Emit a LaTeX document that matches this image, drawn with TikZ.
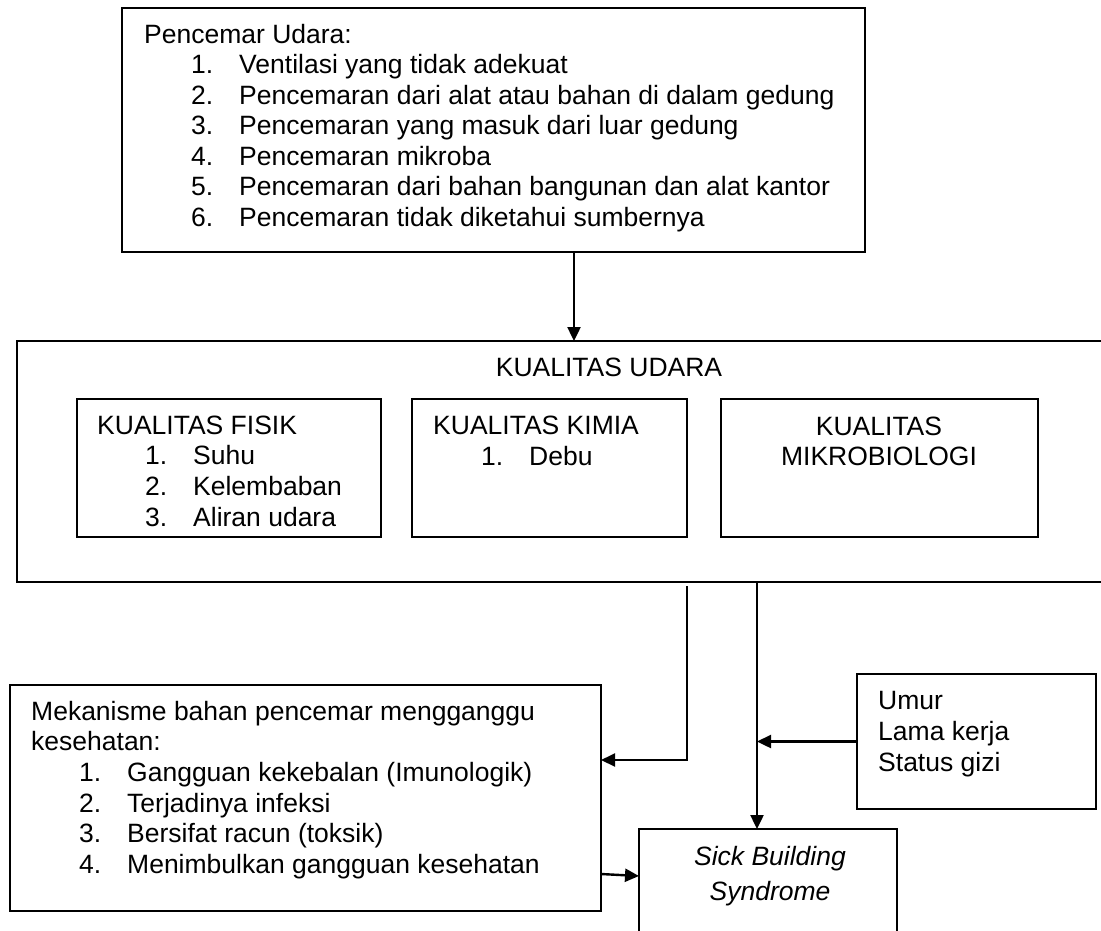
\documentclass[tikz,border=0pt]{standalone}
\usepackage{fontspec}
\setmainfont{Liberation Sans}
\usetikzlibrary{arrows.meta}
\newcommand\numitem[2]{\makebox[48pt][l]{#1}#2}
\begin{document}
\begin{tikzpicture}[x=1pt,y=-1pt,
  box/.style={draw,line width=2pt,rectangle,inner sep=0pt,outer sep=0pt,anchor=north west},
  txt/.style={anchor=base west,inner sep=0pt,font=\fontsize{26.5}{30.5}\selectfont},
  ctxt/.style={txt,anchor=base},
  arr/.style={line width=2.4pt,-{Triangle[length=14pt,width=13pt]}},
  thinarr/.style={line width=2pt,-{Triangle[length=14pt,width=13pt]}},
]
\useasboundingbox (0,0) rectangle (1101,930);
% boxes
\node[box,minimum width=743,minimum height=244] (top) at (122,8) {};
\node[box,minimum width=1110,minimum height=241] (big) at (17,341) {};
\node[box,minimum width=304,minimum height=138] (fisik) at (77,399) {};
\node[box,minimum width=275,minimum height=138] (kimia) at (412,399) {};
\node[box,minimum width=317,minimum height=138] (mikro) at (721,399) {};
\node[box,minimum width=591,minimum height=226] (mek) at (10,685) {};
\node[box,minimum width=239,minimum height=135] (umur) at (857,674) {};
\node[box,minimum width=258,minimum height=150] (sbs) at (639,829) {};
% top box text
\node[txt] (t0) at (144,43) {Pencemar Udara:};
\node[txt] (t1) at (191,73.5) {\numitem{1.}{Ventilasi yang tidak adekuat}};
\node[txt] (t2) at (191,104) {\numitem{2.}{Pencemaran dari alat atau bahan di dalam gedung}};
\node[txt] (t3) at (191,134.5) {\numitem{3.}{Pencemaran yang masuk dari luar gedung}};
\node[txt] (t4) at (191,165) {\numitem{4.}{Pencemaran mikroba}};
\node[txt] (t5) at (191,195.5) {\numitem{5.}{Pencemaran dari bahan bangunan dan alat kantor}};
\node[txt] (t6) at (191,226) {\numitem{6.}{Pencemaran tidak diketahui sumbernya}};
% kualitas udara
\node[ctxt] (ku) at (609,376) {KUALITAS UDARA};
\node[txt] (f0) at (97,434) {KUALITAS FISIK};
\node[txt] (f1) at (145,464.5) {\numitem{1.}{Suhu}};
\node[txt] (f2) at (145,495.5) {\numitem{2.}{Kelembaban}};
\node[txt] (f3) at (145,526.5) {\numitem{3.}{Aliran udara}};
\node[txt] (k0) at (433,434) {KUALITAS KIMIA};
\node[txt] (k1) at (481,465) {\numitem{1.}{Debu}};
\node[ctxt] (m0) at (879,435) {KUALITAS};
\node[ctxt] (m1) at (879,465) {MIKROBIOLOGI};
% mekanisme
\node[txt] (e0) at (31,720) {Mekanisme bahan pencemar mengganggu};
\node[txt] (e1) at (31,750) {kesehatan:};
\node[txt] (e2) at (79,781.5) {\numitem{1.}{Gangguan kekebalan (Imunologik)}};
\node[txt] (e3) at (79,812) {\numitem{2.}{Terjadinya infeksi}};
\node[txt] (e4) at (79,842.5) {\numitem{3.}{Bersifat racun (toksik)}};
\node[txt] (e5) at (79,873) {\numitem{4.}{Menimbulkan gangguan kesehatan}};
% umur
\node[txt] (u0) at (878,709) {Umur};
\node[txt] (u1) at (878,740) {Lama kerja};
\node[txt] (u2) at (878,771) {Status gizi};
% sbs
\node[ctxt] (s0) at (770,865) {\itshape Sick Building};
\node[ctxt] (s1) at (770,900) {\itshape Syndrome};
% connectors
\coordinate (p1) at (574,0);
\coordinate (p2) at (687,586);
\coordinate (p3) at (757,0);
\draw[arr] (top.south -| p1) -- (big.north -| p1);
\draw[thinarr] (p2) -- (p2 |- 0,760) -- (mek.east |- 0,760);
\draw[arr] (big.south -| p3) -- (sbs.north -| p3);
\draw[arr] (umur.west) -- (umur.west -| p3);
\draw[arr] (mek.east |- 0,874) -- (sbs.west |- 0,876);
\end{tikzpicture}
\end{document}
